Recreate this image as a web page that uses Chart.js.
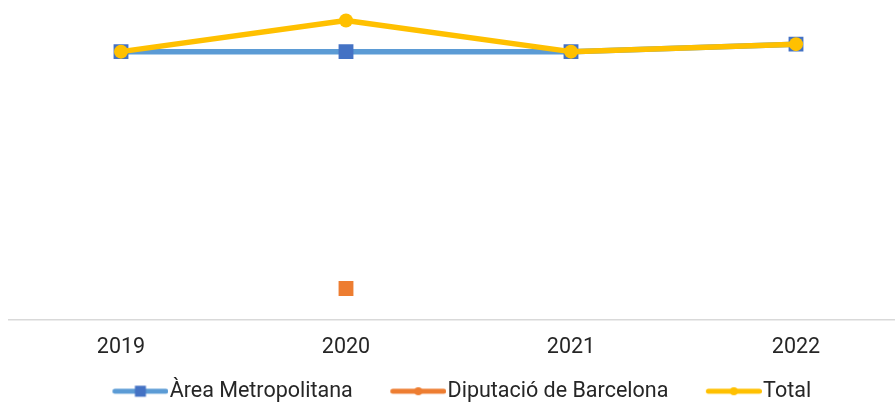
<!DOCTYPE html>
<html>
<head>
<meta charset="utf-8">
<script src="https://cdn.jsdelivr.net/npm/chart.js@4"></script>
<style>
  html, body { margin: 0; padding: 0; background: #fff; overflow: hidden; }
  #wrap { width: 910px; height: 412px; }
</style>
</head>
<body>
<div id="wrap"><canvas id="lineChart"></canvas></div>
<script>
var years = ['2019', '2020', '2021', '2022'];
var seriesNames = ['Àrea Metropolitana', 'Diputació de Barcelona', 'Total'];
var areaValues = [43, 43, 43, 44.2];
var diputacioValues = [null, 5, null, null];
var totalValues = [43, 48, 43, 44.2];

var fontFamily = 'Roboto, "Noto Sans", sans-serif';
var textColor = '#262626';

// legend sample: line with the marker in the middle,
// drawn at the right end of a wider canvas so the gaps match
function legendSample(lineColor, markColor, shape) {
  var c = document.createElement('canvas');
  c.width = 98;
  c.height = 14;
  var ctx = c.getContext('2d');
  var x0 = c.width - 56;
  ctx.strokeStyle = lineColor;
  ctx.lineWidth = 5;
  ctx.lineCap = 'round';
  ctx.beginPath();
  ctx.moveTo(x0 + 2.5, 7);
  ctx.lineTo(x0 + 53.5, 7);
  ctx.stroke();
  ctx.fillStyle = markColor;
  if (shape === 'rect') {
    ctx.fillRect(x0 + 22.5, 1.5, 11, 11);
  } else {
    ctx.beginPath();
    ctx.arc(x0 + 28, 7, 4, 0, Math.PI * 2);
    ctx.fill();
  }
  return c;
}

var legendImages = [
  legendSample('#5B9BD5', '#4472C4', 'rect'),
  legendSample('#ED7D31', '#ED7D31', 'circle'),
  legendSample('#FFC000', '#FFC000', 'circle')
];

// nudge the legend row a little to the left
var legendShift = {
  id: 'legendShift',
  afterLayout: function(chart) {
    if (chart.legend) {
      chart.legend.left -= 13;
      chart.legend.right -= 13;
    }
  }
};

var ctx = document.getElementById('lineChart').getContext('2d');
new Chart(ctx, {
  type: 'line',
  data: {
    labels: years,
    datasets: [{
      label: seriesNames[0],
      data: areaValues,
      order: 2,
      borderColor: '#5B9BD5',
      borderWidth: 5.5,
      pointStyle: 'rect',
      pointRadius: 10.5,
      pointBackgroundColor: '#4472C4',
      pointBorderWidth: 0
    }, {
      label: seriesNames[1],
      data: diputacioValues,
      order: 1,
      borderColor: '#ED7D31',
      borderWidth: 5.5,
      pointStyle: 'rect',
      pointRadius: 10.5,
      pointBackgroundColor: '#ED7D31',
      pointBorderWidth: 0
    }, {
      label: seriesNames[2],
      data: totalValues,
      order: 0,
      borderColor: '#FFC000',
      borderWidth: 5.5,
      borderJoinStyle: 'round',
      pointStyle: 'circle',
      pointRadius: 7,
      pointBackgroundColor: '#FFC000',
      pointBorderWidth: 0
    }]
  },
  options: {
    responsive: true,
    maintainAspectRatio: false,
    animation: false,
    layout: {
      autoPadding: false,
      padding: { left: 8.5, right: 1.5, top: 8, bottom: 0 }
    },
    plugins: {
      tooltip: { enabled: false },
      legend: {
        position: 'bottom',
        labels: {
          usePointStyle: true,
          pointStyleWidth: 79,
          padding: 5,
          color: textColor,
          font: { family: fontFamily, size: 21.5 },
          generateLabels: function(chart) {
            return seriesNames.map(function(name, i) {
              return {
                text: name,
                pointStyle: legendImages[i],
                fillStyle: 'transparent',
                strokeStyle: 'transparent',
                lineWidth: 0,
                fontColor: textColor,
                hidden: !chart.isDatasetVisible(i),
                datasetIndex: i
              };
            });
          }
        }
      }
    },
    scales: {
      x: {
        offset: true,
        grid: { display: false, drawTicks: false },
        border: { display: true, color: '#d9d9d9', width: 1.5 },
        ticks: {
          padding: 15,
          color: textColor,
          font: { family: fontFamily, size: 21.5 }
        }
      },
      y: {
        display: false,
        min: 0,
        max: 50
      }
    }
  },
  plugins: [legendShift]
});
</script>
</body>
</html>
